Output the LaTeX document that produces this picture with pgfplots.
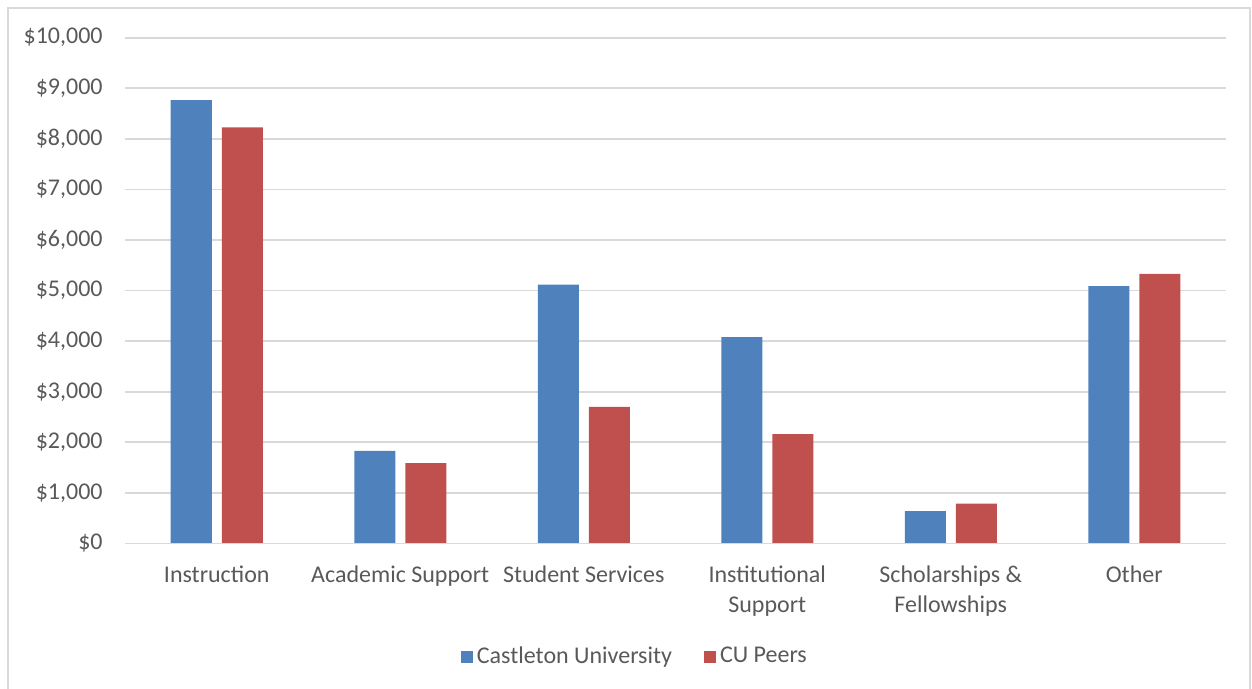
\documentclass[border=0pt]{standalone}
\usepackage{fontspec}
\setmainfont{Carlito}
\usepackage{pgfplots}
\pgfplotsset{compat=1.18}
\definecolor{cublue}{HTML}{4F81BD}
\definecolor{cured}{HTML}{C0504D}
\definecolor{gridgray}{HTML}{D9D9D9}
\definecolor{txtgray}{HTML}{595959}
\begin{document}
\fontsize{12}{15}\selectfont
\begin{tikzpicture}
\begin{axis}[
  scale only axis,
  width=550.5pt, height=252.9pt,
  ymin=0, ymax=10000,
  xmin=-0.5, xmax=5.5,
  ybar=5pt, bar width=20.5pt,
  axis line style={draw=none},
  axis x line*=bottom,
  ytick={0,1000,...,10000},
  ymajorgrids, grid style={gridgray, line width=0.9pt},
  major tick length=0pt,
  xtick=data,
  xticklabels={Instruction, Academic Support, Student Services, {Institutional\\Support}, {Scholarships \&\\Fellowships}, Other},
  xticklabel style={align=center, font=\fontsize{12}{15}\selectfont, text=txtgray, yshift=-7pt},
  yticklabel style={font=\fontsize{12}{15}\selectfont, text=txtgray, xshift=-7pt},
  /pgf/number format/assume math mode=true,
  yticklabel={\$\pgfmathprintnumber[fixed, 1000 sep={,}]{\tick}},
  scaled y ticks=false,
  clip=false,
  legend style={at={(0.464,-0.2244)}, anchor=center, draw=none, legend columns=-1,
    font=\fontsize{12}{15}\selectfont, text=txtgray,
    /tikz/every even column/.append style={column sep=14pt}},
  legend image code/.code={\fill[#1] (0pt,-3pt) rectangle (6pt,3pt);},
]
\addplot[fill=cublue, draw=none] coordinates {(0,8765) (1,1830) (2,5120) (3,4080) (4,640) (5,5090)};
\addplot[fill=cured, draw=none] coordinates {(0,8225) (1,1590) (2,2700) (3,2160) (4,790) (5,5330)};
\legend{Castleton University, CU Peers}
\draw[gridgray, line width=0.9pt] (rel axis cs:0,0) -- (rel axis cs:1,0);
\coordinate (SW) at (rel axis cs:0,0);
\coordinate (NE) at (rel axis cs:1,1);
\end{axis}
\useasboundingbox ([xshift=-62.5pt,yshift=-72.75pt]SW) rectangle ([xshift=13pt,yshift=18.85pt]NE);
\draw[gridgray, line width=0.8pt] ([xshift=-58.5pt,yshift=-76pt]SW) rectangle ([xshift=12pt,yshift=14.85pt]NE);
\end{tikzpicture}
\end{document}
